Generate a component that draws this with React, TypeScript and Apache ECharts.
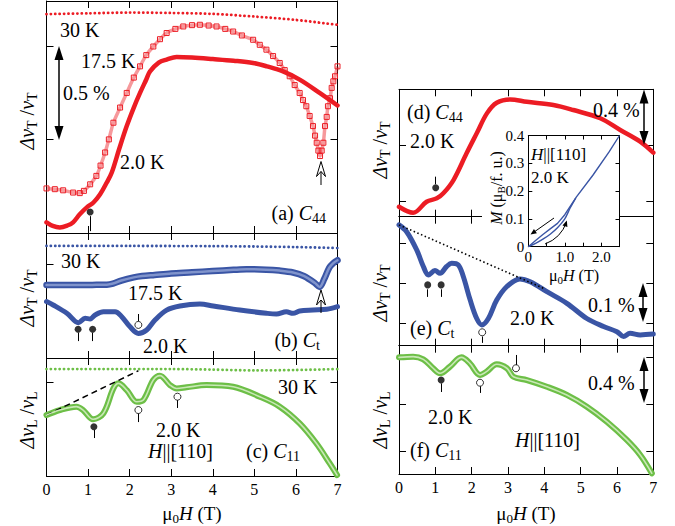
import React, { useEffect, useRef } from "react";
import * as echarts from "echarts";

const RED = "#ec1c24";
const RED_BAND = "rgba(236,28,36,0.45)";
const BLUE = "#3a55a5";
const BLUE_BAND = "#8094cc";
const GREEN = "#6dbf47";
const GREEN_CORE = "#c9e8b6";
const FONT = "Liberation Serif, DejaVu Serif, serif";

// ---------- data (field in T, relative change in %) ----------
const a30K = [[0, 0.669], [1, 0.673], [2, 0.677], [3, 0.675], [4, 0.67], [5, 0.656], [6, 0.638], [7, 0.612]];
const a175K = [[0, -0.262], [0.2, -0.266], [0.4, -0.272], [0.64, -0.284], [0.8, -0.287], [0.9, -0.275], [1.05, -0.24], [1.2, -0.195], [1.3, -0.14], [1.41, -0.07], [1.5, 0.0], [1.61, 0.089], [1.77, 0.17], [1.93, 0.248], [2.1, 0.33], [2.25, 0.39], [2.4, 0.45], [2.57, 0.496], [2.73, 0.535], [2.89, 0.568], [3.1, 0.59], [3.29, 0.603], [3.5, 0.61], [3.69, 0.612], [3.9, 0.608], [4.09, 0.603], [4.3, 0.59], [4.49, 0.576], [4.7, 0.555], [4.97, 0.532], [5.13, 0.505], [5.29, 0.479], [5.45, 0.445], [5.61, 0.408], [5.73, 0.37], [5.85, 0.337], [5.97, 0.29], [6.09, 0.248], [6.17, 0.21], [6.25, 0.177], [6.33, 0.125], [6.41, 0.071], [6.46, 0.02], [6.5, -0.018], [6.54, -0.06], [6.58, -0.089], [6.62, -0.06], [6.66, -0.018], [6.7, 0.071], [6.74, 0.12], [6.77, 0.177], [6.82, 0.22], [6.86, 0.275], [6.9, 0.31], [6.94, 0.337], [7.0, 0.39]];
const a2K = [[0, -0.443], [0.15, -0.462], [0.32, -0.47], [0.5, -0.46], [0.64, -0.443], [0.8, -0.4], [0.97, -0.363], [1.13, -0.337], [1.29, -0.293], [1.45, -0.23], [1.57, -0.177], [1.75, -0.05], [1.93, 0.071], [2.1, 0.17], [2.25, 0.248], [2.4, 0.32], [2.49, 0.363], [2.7, 0.41], [2.89, 0.426], [3.13, 0.44], [3.5, 0.437], [4.0, 0.429], [4.5, 0.42], [4.97, 0.408], [5.3, 0.39], [5.69, 0.363], [6.09, 0.319], [6.57, 0.248], [7.0, 0.181]];
const aFilled = [[1.05, -0.388]];
const aFilledStems = [[1.05, -0.41, -0.49]];

const b30K = [[0, 0.096], [2, 0.096], [4, 0.095], [5, 0.093], [6, 0.09], [7, 0.085]];
const b175K = [[0, -0.112], [0.64, -0.112], [1.1, -0.111], [1.45, -0.11], [1.6, -0.104], [1.8, -0.088], [2.1, -0.071], [2.3, -0.064], [2.6, -0.058], [3, -0.05], [3.5, -0.044], [4, -0.037], [4.5, -0.031], [4.81, -0.028], [5.29, -0.03], [5.6, -0.035], [5.93, -0.045], [6.2, -0.065], [6.45, -0.1], [6.57, -0.122], [6.68, -0.08], [6.8, -0.02], [6.9, 0.005], [7, 0.02]];
const b2K = [[0, -0.2], [0.16, -0.218], [0.49, -0.262], [0.77, -0.312], [0.93, -0.289], [1.05, -0.292], [1.17, -0.271], [1.37, -0.254], [1.65, -0.254], [1.81, -0.28], [2.01, -0.334], [2.21, -0.369], [2.41, -0.351], [2.61, -0.298], [2.89, -0.245], [3.21, -0.223], [3.69, -0.213], [4.01, -0.223], [4.65, -0.245], [5.29, -0.262], [5.53, -0.266], [5.77, -0.254], [5.93, -0.262], [6.09, -0.25], [6.41, -0.245], [6.74, -0.241], [7.0, -0.227]];
const bFilled = [[0.76, -0.347], [1.11, -0.347]];
const bFilledStems = [[0.76, -0.365, -0.41], [1.11, -0.365, -0.41]];
const bOpen = [[2.21, -0.324]];
const bOpenStems = [[2.21, -0.266, -0.305]];

const c30K = [[0, 0.069], [3, 0.069], [4, 0.066], [5, 0.062], [6, 0.064], [7, 0.069]];
const c2K = [[0, -0.176], [0.32, -0.149], [0.72, -0.131], [0.88, -0.149], [1.12, -0.198], [1.37, -0.166], [1.61, -0.034], [1.73, -0.007], [1.93, -0.043], [2.17, -0.105], [2.33, -0.096], [2.57, 0.011], [2.73, 0.034], [2.97, -0.016], [3.13, -0.034], [3.37, -0.028], [3.85, -0.016], [4.49, -0.025], [5.13, -0.078], [5.61, -0.131], [6.09, -0.22], [6.49, -0.326], [6.81, -0.432], [6.99, -0.495]];
const cDash = [[0, -0.176], [2.21, 0.06]];
const cFilled = [[1.14, -0.238]];
const cFilledStems = [[1.14, -0.255, -0.298]];
const cOpen = [[2.21, -0.149], [3.15, -0.078]];
const cOpenStems = [[2.21, -0.166, -0.213], [3.15, -0.095, -0.138]];

const d2K = [[0, -0.441], [0.39, -0.484], [0.76, -0.405], [1.04, -0.381], [1.22, -0.345], [1.5, -0.25], [1.86, -0.059], [2.14, 0.084], [2.42, 0.226], [2.69, 0.302], [3.06, 0.326], [3.52, 0.309], [4.25, 0.286], [4.8, 0.25], [5.54, 0.191], [6.09, 0.107], [6.64, 0.024], [7, -0.055]];
const dFilled = [[1.01, -0.305]];
const dFilledStems = [[1.01, -0.226, -0.28]];

const e2K = [[0, 0.146], [0.21, 0.129], [0.49, 0.083], [0.67, 0.042], [0.81, 0.021], [0.99, 0.032], [1.13, 0.025], [1.31, 0.042], [1.45, 0.05], [1.63, 0.046], [1.77, 0.017], [1.96, -0.042], [2.14, -0.088], [2.28, -0.104], [2.46, -0.088], [2.69, -0.042], [2.97, -0.008], [3.33, 0.011], [3.61, 0.004], [4.07, -0.021], [4.62, -0.05], [5.17, -0.088], [5.63, -0.108], [6.0, -0.121], [6.18, -0.133], [6.36, -0.125], [6.64, -0.129], [7, -0.127]];
const eDot = [[0, 0.146], [3.98, -0.0125]];
const eFilled = [[0.79, -0.004], [1.16, -0.004]];
const eFilledStems = [[0.79, -0.015, -0.034], [1.16, -0.015, -0.034]];
const eOpen = [[2.29, -0.1225]];
const eOpenStems = [[2.29, -0.133, -0.149]];

const f2K = [[0, -0.003], [0.39, 0.003], [0.67, -0.02], [0.94, -0.096], [1.13, -0.139], [1.4, -0.083], [1.72, -0.003], [1.95, -0.054], [2.23, -0.153], [2.41, -0.125], [2.69, -0.062], [2.97, -0.096], [3.15, -0.168], [3.52, -0.196], [4.07, -0.253], [4.62, -0.323], [5.17, -0.423], [5.72, -0.551], [6.27, -0.706], [6.64, -0.834], [6.96, -0.99]];
const fFilled = [[1.16, -0.196]];
const fFilledStems = [[1.16, -0.225, -0.298]];
const fOpen = [[2.23, -0.219], [3.22, -0.096]];
const fOpenStems = [[2.23, -0.248, -0.306], [3.22, 0.017, -0.068]];

const mDown = [[0, 0], [0.2, 0.022], [0.4, 0.044], [0.6, 0.064], [0.8, 0.084], [1.0, 0.115], [1.32, 0.179], [1.77, 0.257], [2.21, 0.34], [2.5, 0.4]];
const mUp = [[0, 0], [0.2, 0.012], [0.4, 0.027], [0.6, 0.045], [0.8, 0.068], [1.0, 0.1], [1.15, 0.14], [1.3, 0.175]];

const Y_RANGES = [[-0.5, 0.739], [-0.5, 0.165], [-0.5, 0.128], [-0.512, 0.398], [-0.156, 0.1665], [-0.996, 0.096]];
const Y_TICKS = [[-0.5, 0, 0.5], [-0.5, 0], [-0.5, 0], [-0.4, 0, 0.4], [-0.1, 0, 0.1], [-0.8, -0.4, 0]];

// ---------- helpers ----------
function richFor(size: number) {
  const lh = Math.round(size * 1.25);
  return {
    n: { fontSize: size, fontFamily: FONT, fill: "#000", lineHeight: lh },
    i: { fontSize: size, fontFamily: FONT, fontStyle: "italic", fill: "#000", lineHeight: lh },
    s: { fontSize: Math.round(size * 0.68), fontFamily: FONT, fill: "#000", lineHeight: lh, verticalAlign: "bottom" },
  };
}

function txt(x: number, y: number, text: string, size = 20, align = "left", rotation = 0) {
  return {
    type: "text",
    x, y, rotation, z: 30,
    style: { text, rich: richFor(size), fontSize: size, fontFamily: FONT, fill: "#000", align, verticalAlign: "middle" },
  };
}

function dblArrow(x: number, y1: number, y2: number) {
  return [
    { type: "line", z: 30, shape: { x1: x, y1: y1 + 12, x2: x, y2: y2 - 12 }, style: { stroke: "#000", lineWidth: 1.5 } },
    { type: "polygon", z: 30, shape: { points: [[x, y1], [x - 4.5, y1 + 14], [x + 4.5, y1 + 14]] }, style: { fill: "#000" } },
    { type: "polygon", z: 30, shape: { points: [[x, y2], [x - 4.5, y2 - 14], [x + 4.5, y2 - 14]] }, style: { fill: "#000" } },
  ];
}

function openArrow(x: number, tip: number, bottom: number) {
  return [
    { type: "polygon", z: 30, shape: { points: [[x, tip], [x - 4.5, tip + 15], [x, tip + 10], [x + 4.5, tip + 15]] }, style: { fill: "#fff", stroke: "#000", lineWidth: 1 } },
    { type: "line", z: 30, shape: { x1: x, y1: tip + 10, x2: x, y2: bottom }, style: { stroke: "#000", lineWidth: 1 } },
  ];
}

function headAt(x: number, y: number, ang: number) {
  const L = 6, W = 2.6;
  const bx = x - L * Math.cos(ang), by = y - L * Math.sin(ang);
  const px = -Math.sin(ang) * W, py = Math.cos(ang) * W;
  return { type: "polygon", z: 30, shape: { points: [[x, y], [bx + px, by + py], [bx - px, by - py]] }, style: { fill: "#000" } };
}

function buildOption() {
  const grids = [
    { left: 46.5, top: 1, width: 291, height: 232 },
    { left: 46.5, top: 233, width: 291, height: 125 },
    { left: 46.5, top: 358, width: 291, height: 118 },
    { left: 399, top: 89.3, width: 254.3, height: 127.4 },
    { left: 399, top: 216.7, width: 254.3, height: 129 },
    { left: 399, top: 345.7, width: 254.3, height: 128.3 },
    { left: 528.3, top: 135.5, width: 91.2, height: 111.2 },
  ];
  const axLine = { show: true, onZero: false, lineStyle: { color: "#000", width: 1 } };
  const xAxis: any[] = [];
  const yAxis: any[] = [];
  for (let i = 0; i < 6; i++) {
    const showLab = i === 2 || i === 5;
    for (const pos of ["bottom", "top"]) {
      xAxis.push({
        gridIndex: i, type: "value", min: 0, max: 7, interval: 1, position: pos,
        axisLine: axLine,
        axisTick: { show: true, inside: true, length: 7, lineStyle: { color: "#000" } },
        axisLabel: { show: showLab && pos === "bottom", color: "#000", fontSize: 16, fontFamily: FONT, margin: 5 },
        splitLine: { show: false },
      });
    }
    for (const pos of ["left", "right"]) {
      yAxis.push({
        gridIndex: i, type: "value", min: Y_RANGES[i][0], max: Y_RANGES[i][1], position: pos,
        axisLine: axLine,
        axisTick: { show: true, inside: true, length: 7, customValues: Y_TICKS[i], lineStyle: { color: "#000" } },
        axisLabel: { show: false },
        splitLine: { show: false },
      });
    }
  }
  // inset
  for (const pos of ["bottom", "top"]) {
    xAxis.push({
      gridIndex: 6, type: "value", min: 0, max: 2.5, interval: 0.5, position: pos, z: 10,
      axisLine: axLine,
      axisTick: { show: true, inside: true, length: 4, lineStyle: { color: "#000" } },
      axisLabel: {
        show: pos === "bottom", color: "#000", fontSize: 15, fontFamily: FONT, margin: 3, showMaxLabel: false,
        formatter: (v: number) => (v === 0 ? "0" : v === 1 ? "1.0" : v === 2 ? "2.0" : ""),
      },
      splitLine: { show: false },
    });
  }
  for (const pos of ["left", "right"]) {
    yAxis.push({
      gridIndex: 6, type: "value", min: 0, max: 0.4, interval: 0.1, position: pos, z: 10,
      axisLine: axLine,
      axisTick: { show: true, inside: true, length: 4, lineStyle: { color: "#000" } },
      axisLabel: {
        show: pos === "left", color: "#000", fontSize: 15, fontFamily: FONT, margin: 4,
        formatter: (v: number) => (v === 0 ? "0" : v.toFixed(1)),
      },
      splitLine: { show: false },
    });
  }

  const ax = (g: number) => ({ xAxisIndex: 2 * g, yAxisIndex: 2 * g });
  const dotted = (g: number, data: number[][], color: string) => ({
    type: "line", ...ax(g), data, showSymbol: false, smooth: 0.3, z: 2,
    lineStyle: { color, width: 2.8, type: [0.1, 4.3], cap: "round" },
  });
  const solid = (g: number, data: number[][], color: string, width: number) => ({
    type: "line", ...ax(g), data, showSymbol: false, smooth: 0.35, z: 3,
    lineStyle: { color, width, cap: "round", join: "round" },
  });
  const squares = (g: number, data: number[][], color: string, band: string) => ({
    type: "line", ...ax(g), data, smooth: 0.3, z: 2,
    showSymbol: true, showAllSymbol: true, symbol: "rect", symbolSize: 5,
    itemStyle: { color: "rgba(255,255,255,0)", borderColor: color, borderWidth: 1 },
    lineStyle: { color: band, width: 3.5 },
  });
  const markers = (g: number, data: number[][], stems: number[][], open: boolean) => ({
    type: "scatter", ...ax(g), data, symbolSize: 7, z: 6,
    itemStyle: open ? { color: "#fff", borderColor: "#000", borderWidth: 1 } : { color: "#000" },
    markLine: {
      silent: true, symbol: "none", label: { show: false }, animation: false,
      lineStyle: { color: "#000", width: 1, type: "solid" },
      data: stems.map(([x, y1, y2]) => [{ coord: [x, y1] }, { coord: [x, y2] }]),
    },
  });

  const series: any[] = [
    dotted(0, a30K, RED),
    squares(0, a175K, RED, RED_BAND),
    solid(0, a2K, RED, 4.5),
    markers(0, aFilled, aFilledStems, false),

    dotted(1, b30K, BLUE),
    { ...solid(1, b175K, BLUE, 6.5), smooth: 0.3 },
    { ...solid(1, b175K, BLUE_BAND, 2.5), smooth: 0.3, z: 3 },
    solid(1, b2K, BLUE, 5),
    markers(1, bFilled, bFilledStems, false),
    markers(1, bOpen, bOpenStems, true),

    dotted(2, c30K, GREEN),
    { type: "line", ...ax(2), data: cDash, showSymbol: false, z: 4, lineStyle: { color: "#000", width: 1.5, type: [6, 4] } },
    solid(2, c2K, GREEN, 6),
    { ...solid(2, c2K, GREEN_CORE, 1.6), z: 4 },
    markers(2, cFilled, cFilledStems, false),
    markers(2, cOpen, cOpenStems, true),

    solid(3, d2K, RED, 4.5),
    markers(3, dFilled, dFilledStems, false),

    { type: "line", ...ax(4), data: eDot, showSymbol: false, z: 4, lineStyle: { color: "#000", width: 1.6, type: [1.5, 2.5] } },
    solid(4, e2K, BLUE, 5),
    markers(4, eFilled, eFilledStems, false),
    markers(4, eOpen, eOpenStems, true),

    solid(5, f2K, GREEN, 6),
    { ...solid(5, f2K, GREEN_CORE, 1.6), z: 4 },
    markers(5, fFilled, fFilledStems, false),
    markers(5, fOpen, fOpenStems, true),

    { type: "line", ...ax(6), data: mDown, showSymbol: false, z: 12, lineStyle: { color: BLUE, width: 1.4 } },
    { type: "line", ...ax(6), data: mUp, showSymbol: false, smooth: 0.3, z: 12, lineStyle: { color: BLUE, width: 1.4 } },
  ];

  const yNameT = "{i|Δv}{s|T}{n| /}{i|v}{s|T}";
  const yNameL = "{i|Δv}{s|L}{n| /}{i|v}{s|L}";
  const fieldName = "{n|μ}{s|0}{i|H}{n| (T)}";
  const a2 = Math.atan2(221 - 238, 566.5 - 561);

  const elements: any[] = [
    { type: "rect", z: 5, shape: { x: 482, y: 133, width: 138, height: 117 }, style: { fill: "#fff" } },
    // y axis names
    txt(27, 121, yNameT, 20, "center", Math.PI / 2),
    txt(27, 298, yNameT, 20, "center", Math.PI / 2),
    txt(27, 420, yNameL, 20, "center", Math.PI / 2),
    txt(380, 150, yNameT, 20, "center", Math.PI / 2),
    txt(380, 293, yNameT, 20, "center", Math.PI / 2),
    txt(380, 420, yNameL, 20, "center", Math.PI / 2),
    txt(496, 188, "{i|M}{n| (μ}{s|B}{n|/f. u.)}", 16, "center", Math.PI / 2),
    // x axis names
    txt(192, 513, fieldName, 19, "center"),
    txt(526, 513, fieldName, 19, "center"),
    txt(574, 275, fieldName, 16, "center"),
    // panel (a)
    txt(60, 30, "{n|30 K}"),
    txt(81, 61, "{n|17.5 K}"),
    txt(63, 93, "{n|0.5 %}"),
    txt(120, 162, "{n|2.0 K}"),
    txt(326, 213, "{n|(a) }{i|C}{s|44}", 20, "right"),
    // panel (b)
    txt(61, 261, "{n|30 K}"),
    txt(128, 293, "{n|17.5 K}"),
    txt(143, 346, "{n|2.0 K}"),
    txt(320, 340, "{n|(b) }{i|C}{s|t}", 20, "right"),
    // panel (c)
    txt(278, 387, "{n|30 K}"),
    txt(156, 430, "{n|2.0 K}"),
    txt(148, 451, "{i|H}{n|||[110]}"),
    txt(300, 451, "{n|(c) }{i|C}{s|11}", 20, "right"),
    // panel (d)
    txt(407, 112, "{n|(d) }{i|C}{s|44}"),
    txt(410, 141, "{n|2.0 K}"),
    txt(593, 110, "{n|0.4 %}"),
    // inset
    txt(531, 154, "{i|H}{n|||[110]}", 17),
    txt(531, 177, "{n|2.0 K}", 17),
    // panel (e)
    txt(410, 328, "{n|(e) }{i|C}{s|t}"),
    txt(510, 318, "{n|2.0 K}"),
    txt(588, 305, "{n|0.1 %}"),
    // panel (f)
    txt(428, 417, "{n|2.0 K}"),
    txt(515, 440, "{i|H}{n|||[110]}"),
    txt(410, 450, "{n|(f) }{i|C}{s|11}"),
    txt(588, 383, "{n|0.4 %}"),
    // arrows
    ...dblArrow(59, 46, 140),
    ...dblArrow(644, 89.5, 145),
    ...dblArrow(643, 283, 322),
    ...dblArrow(644, 357, 403),
    ...openArrow(321, 161.5, 185),
    ...openArrow(321, 290, 313),
    // inset arrows
    { type: "line", z: 30, shape: { x1: 554, y1: 218, x2: 532, y2: 233.5 }, style: { stroke: "#000", lineWidth: 1 } },
    headAt(530.5, 234.5, Math.atan2(234.5 - 218, 530.5 - 554)),
    { type: "bezierCurve", z: 30, shape: { x1: 545, y1: 244, cpx1: 561, cpy1: 238, x2: 566.5, y2: 222 }, style: { stroke: "#000", lineWidth: 1, fill: "none" } },
    headAt(566.8, 220.5, a2),
  ];

  return {
    animation: false,
    backgroundColor: "#fff",
    textStyle: { fontFamily: FONT },
    grid: grids.map((g) => ({ ...g, containLabel: false })),
    xAxis,
    yAxis,
    series,
    graphic: { elements },
  };
}

export default function App() {
  const ref = useRef<HTMLDivElement>(null);
  useEffect(() => {
    document.body.style.margin = "0";
    const chart = echarts.init(ref.current!, null, { renderer: "svg" });
    chart.setOption(buildOption() as any);
    return () => chart.dispose();
  }, []);
  return <div ref={ref} style={{ width: 675, height: 526 }} />;
}
